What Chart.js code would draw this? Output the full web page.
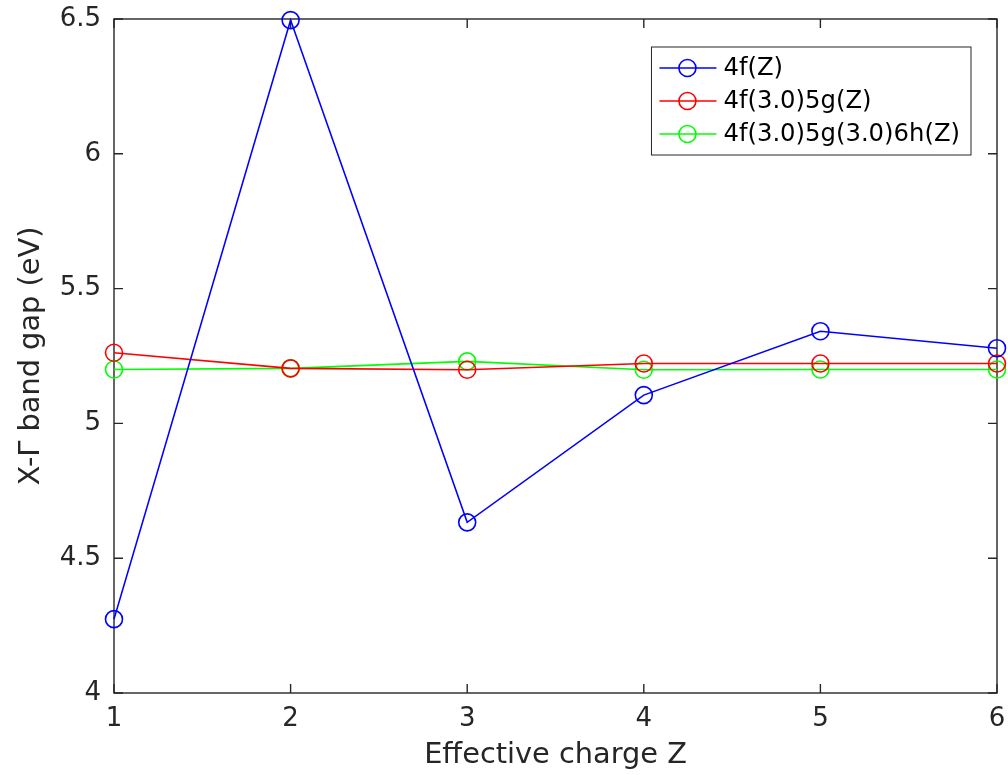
<!DOCTYPE html>
<html lang="en">

<head>
  <meta charset="UTF-8">
  <title>X-Γ band gap vs effective charge</title>
  <script src="https://cdn.jsdelivr.net/npm/chart.js"></script>
  <style>
    html, body { margin: 0; padding: 0; background: #fff; }
    #wrap { width: 1008px; height: 775px; }
  </style>
</head>

<body>
  <div id="wrap">
    <canvas id="myChart" width="1008" height="775"></canvas>
  </div>

  <script>
    // effective charge Z
    const charges = [1, 2, 3, 4, 5, 6];
    const yTicks = [4, 4.5, 5, 5.5, 6, 6.5];

    // band gaps (eV)
    const gap4f = [4.274, 6.496, 4.633, 5.105, 5.342, 5.279];
    const gap4f5g = [5.262, 5.204, 5.199, 5.222, 5.222, 5.222];
    const gap4f5g6h = [5.200, 5.204, 5.230, 5.199, 5.200, 5.200];

    const labels = ['4f(Z)', '4f(3.0)5g(Z)', '4f(3.0)5g(3.0)6h(Z)'];
    const colors = ['#0000ff', '#ff0000', '#00ff00'];

    const axisColor = '#262626';
    const fontName = '"DejaVu Sans", sans-serif';

    function toPoints(values) {
      return charges.map((z, i) => ({ x: z, y: values[i] }));
    }

    function makeSet(i, values) {
      return {
        label: labels[i],
        data: toPoints(values),
        borderColor: colors[i],
        backgroundColor: 'transparent',
        borderWidth: 1.6,
        pointRadius: 8.5,
        pointHoverRadius: 8.5,
        pointBorderWidth: 1.6,
        pointBorderColor: colors[i],
        pointBackgroundColor: 'transparent',
        tension: 0,
        clip: false
      };
    }

    // box with inward ticks on every side, like the original figure
    const boxPlugin = {
      id: 'box',
      beforeDatasetsDraw(chart) {
        const { ctx, chartArea: a, scales: { x, y } } = chart;
        const len = 9;
        ctx.save();
        ctx.strokeStyle = axisColor;
        ctx.lineWidth = 1.4;
        ctx.strokeRect(a.left, a.top, a.right - a.left, a.bottom - a.top);
        ctx.beginPath();
        x.ticks.forEach(t => {
          const px = x.getPixelForValue(t.value);
          ctx.moveTo(px, a.bottom); ctx.lineTo(px, a.bottom - len);
          ctx.moveTo(px, a.top); ctx.lineTo(px, a.top + len);
        });
        y.ticks.forEach(t => {
          const py = y.getPixelForValue(t.value);
          ctx.moveTo(a.left, py); ctx.lineTo(a.left + len, py);
          ctx.moveTo(a.right, py); ctx.lineTo(a.right - len, py);
        });
        ctx.stroke();
        ctx.restore();
      }
    };

    // boxed legend in the top right corner
    const legendPlugin = {
      id: 'boxLegend',
      afterDraw(chart) {
        const { ctx, chartArea: a } = chart;
        const sets = chart.data.datasets;
        ctx.save();
        ctx.font = '24.3px ' + fontName;
        const textW = Math.max(...sets.map(d => ctx.measureText(d.label).width));
        const right = a.right - 26;
        const left = right - (textW + 72 + 11);
        const top = a.top + 28;
        const rowH = 33;
        const bottom = top + 21 + rowH * (sets.length - 1) + 21;
        ctx.fillStyle = '#fff';
        ctx.fillRect(left, top, right - left, bottom - top);
        ctx.strokeStyle = axisColor;
        ctx.lineWidth = 1;
        ctx.strokeRect(left, top, right - left, bottom - top);
        sets.forEach((d, i) => {
          const cy = top + 21 + i * rowH;
          ctx.strokeStyle = d.borderColor;
          ctx.lineWidth = 1.6;
          ctx.beginPath();
          ctx.moveTo(left + 8, cy);
          ctx.lineTo(left + 65, cy);
          ctx.stroke();
          ctx.beginPath();
          ctx.arc(left + 36, cy, 8.5, 0, Math.PI * 2);
          ctx.stroke();
          ctx.fillStyle = '#000';
          ctx.textBaseline = 'middle';
          ctx.textAlign = 'left';
          ctx.fillText(d.label, left + 72, cy + 1);
        });
        ctx.restore();
      }
    };

    const ctx = document.getElementById('myChart');

    const chart = new Chart(ctx, {
      type: 'line',
      data: {
        datasets: [makeSet(0, gap4f), makeSet(1, gap4f5g), makeSet(2, gap4f5g6h)]
      },
      options: {
        responsive: false,
        animation: false,
        layout: {
          padding: { top: 19, right: 11, left: 0, bottom: 0 }
        },
        scales: {
          x: {
            type: 'linear',
            min: 1,
            max: 6,
            afterFit(scale) {
              scale.height = 82;
              scale.paddingLeft = 0;
              scale.paddingRight = 0;
            },
            afterBuildTicks(scale) { scale.ticks = charges.map(v => ({ value: v })); },
            grid: { display: false, drawTicks: false },
            border: { display: false },
            ticks: {
              color: axisColor,
              padding: 11,
              maxRotation: 0,
              font: { family: fontName, size: 26 }
            },
            title: {
              display: true,
              text: 'Effective charge Z',
              color: axisColor,
              padding: { top: 0, bottom: 2 },
              font: { family: fontName, size: 28.8 }
            }
          },
          y: {
            min: 4,
            max: 6.5,
            afterFit(scale) {
              scale.width = 114;
              scale.paddingTop = 0;
              scale.paddingBottom = 0;
            },
            afterBuildTicks(scale) { scale.ticks = yTicks.map(v => ({ value: v })); },
            grid: { display: false, drawTicks: false },
            border: { display: false },
            ticks: {
              color: axisColor,
              padding: 13,
              font: { family: fontName, size: 26 },
              callback: v => String(v)
            },
            title: {
              display: true,
              text: 'X-Γ band gap (eV)',
              color: axisColor,
              padding: { top: 14, bottom: 0 },
              font: { family: fontName, size: 28.8 }
            }
          }
        },
        plugins: {
          legend: { display: false },
          tooltip: { enabled: false }
        }
      },
      plugins: [boxPlugin, legendPlugin]
    });
  </script>
</body>

</html>
